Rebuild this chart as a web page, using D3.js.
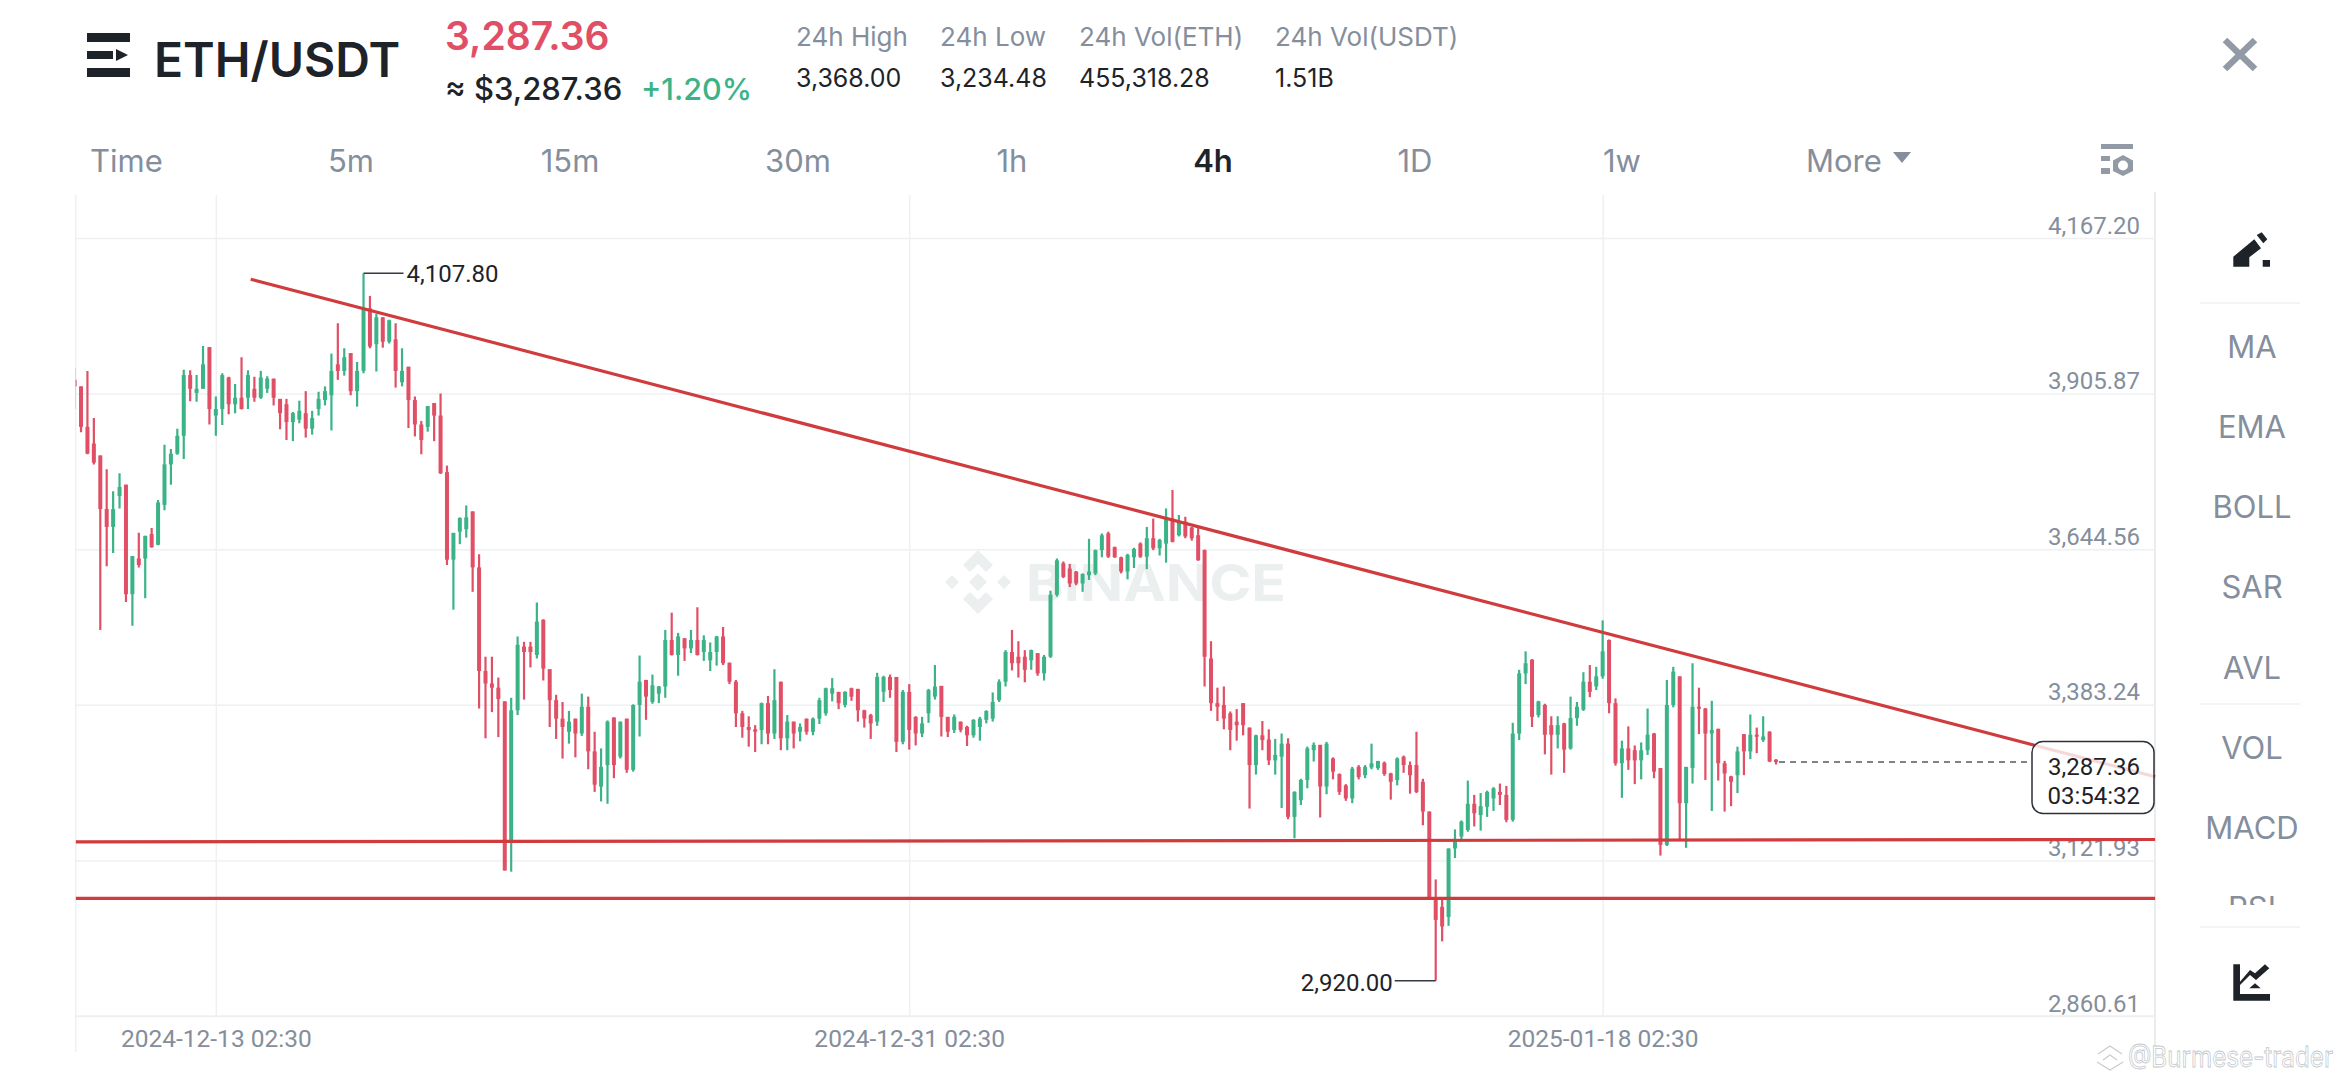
<!DOCTYPE html>
<html>
<head>
<meta charset="utf-8">
<title>ETH/USDT</title>
<script src="https://cdn.jsdelivr.net/npm/d3@7"></script>
<style>
body { margin: 0; background: #ffffff; overflow: hidden; }
text { font-family: Inter, "Noto Sans", sans-serif; }
</style>
</head>
<body>
<script>
// 4h candles (first one is cut by the left edge)
var opens = [3929,3918,3850,3822,3802,3712,3682,3734,3753,3569,
3629,3629,3670,3652,3719,3787,3805,3835,3937,3907,
3914,3984,3869,3880,3933,3888,3899,3899,3914,3899,
3914,3931,3897,3888,3858,3862,3873,3847,3880,3895,
3903,3955,3944,3974,3910,3944,4049,3989,4034,3993,
3997,3925,3951,3895,3854,3850,3890,3869,3774,3627,
3674,3678,3708,3614,3440,3419,3412,3389,3155,3374,
3481,3481,3467,3526,3443,3391,3360,3338,3360,3335,
3380,3305,3246,3282,3362,3296,3360,3274,3383,3425,
3388,3402,3414,3492,3467,3495,3478,3492,3472,3458,
3472,3498,3454,3422,3369,3346,3342,3341,3386,3335,
3422,3327,3355,3338,3360,3338,3360,3369,3402,3405,
3383,3411,3410,3374,3366,3355,3405,3430,3430,3321,
3405,3363,3335,3369,3397,3415,3363,3341,3355,3346,
3332,3346,3358,3360,3391,3422,3472,3464,3464,3458,
3470,3436,3464,3568,3621,3612,3607,3587,3601,3604,
3643,3671,3648,3631,3607,3631,3654,3632,3663,3646,
3654,3696,3668,3691,3681,3668,3643,3461,3386,3383,
3369,3355,3386,3345,3282,3332,3325,3290,3296,3318,
3195,3223,3257,3307,3316,3246,3293,3267,3248,3226,
3279,3265,3278,3277,3286,3268,3257,3296,3282,3282,
3254,3204,3058,3044,3027,3142,3162,3173,3217,3198,
3212,3226,3237,3232,3190,3335,3436,3459,3366,3383,
3349,3333,3352,3310,3361,3375,3422,3414,3431,3492,
3386,3285,3310,3307,3290,3307,3335,3277,3148,3383,
3431,3218,3277,3380,3377,3335,3343,3285,3263,3265,
3334,3305,3333,3324,3338,3291];

var highs = [3948,3918,3944,3865,3802,3779,3742,3772,3753,3633,
3672,3667,3680,3727,3820,3813,3847,3946,3945,3937,
3986,3984,3901,3940,3934,3922,3967,3945,3934,3944,
3935,3931,3897,3897,3875,3894,3910,3877,3909,3918,
3973,4024,3982,3974,3959,4107.8,4070,4040,4034,4030,
4024,3982,3951,3901,3860,3885,3890,3906,3785,3672,
3698,3718,3708,3636,3464,3464,3429,3389,3395,3498,
3489,3489,3555,3527,3443,3400,3388,3373,3360,3402,
3397,3338,3310,3357,3362,3355,3360,3384,3466,3425,
3434,3415,3509,3538,3504,3495,3509,3547,3500,3488,
3499,3514,3454,3425,3373,3364,3349,3387,3398,3443,
3422,3366,3355,3352,3360,3362,3395,3412,3428,3405,
3406,3412,3410,3375,3368,3437,3432,3434,3430,3408,
3418,3364,3363,3410,3450,3415,3363,3367,3355,3348,
3359,3363,3374,3404,3426,3475,3509,3490,3475,3476,
3470,3467,3575,3629,3624,3620,3608,3604,3662,3644,
3671,3674,3649,3632,3637,3647,3656,3682,3696,3662,
3713,3744,3702,3699,3682,3680,3644,3490,3412,3414,
3372,3376,3386,3345,3333,3356,3342,3326,3335,3327,
3238,3259,3313,3320,3316,3321,3295,3268,3250,3279,
3282,3282,3318,3289,3288,3269,3295,3298,3288,3338,
3259,3204,3090,3058,3142,3174,3189,3256,3232,3235,
3239,3245,3251,3247,3353,3442,3473,3460,3390,3385,
3364,3364,3353,3397,3388,3438,3450,3447,3525,3493,
3394,3323,3347,3315,3320,3377,3336,3277,3425,3447,
3431,3279,3453,3412,3378,3390,3343,3289,3264,3313,
3334,3367,3345,3364,3339,3292];

var lows = [3880,3841,3804,3787,3509,3616,3638,3713,3556,3516,
3614,3562,3647,3651,3710,3753,3803,3796,3893,3892,
3914,3854,3835,3853,3871,3873,3879,3880,3892,3897,
3907,3886,3846,3828,3826,3856,3832,3837,3869,3886,
3844,3929,3936,3903,3884,3940,3982,3943,3983,3990,
3916,3918,3848,3834,3804,3842,3826,3771,3618,3543,
3653,3664,3573,3377,3327,3371,3329,3105,3103,3366,
3392,3446,3461,3424,3346,3326,3293,3318,3295,3331,
3275,3237,3221,3217,3260,3293,3269,3271,3330,3358,
3385,3386,3395,3466,3432,3457,3470,3466,3457,3440,
3449,3450,3418,3346,3328,3313,3304,3317,3317,3326,
3307,3307,3310,3322,3333,3332,3351,3365,3389,3376,
3379,3390,3355,3345,3326,3348,3388,3395,3304,3317,
3308,3315,3329,3353,3392,3330,3329,3336,3337,3314,
3328,3323,3352,3355,3388,3414,3441,3429,3421,3442,
3432,3424,3462,3565,3596,3581,3584,3573,3593,3601,
3631,3630,3630,3604,3594,3613,3630,3611,3643,3634,
3622,3656,3666,3663,3659,3625,3414,3373,3356,3342,
3307,3323,3332,3209,3266,3307,3282,3266,3210,3191,
3159,3215,3243,3288,3194,3233,3258,3232,3222,3218,
3258,3260,3275,3274,3264,3224,3248,3269,3234,3235,
3181,3058,2920,2986,3012,3126,3157,3170,3179,3172,
3195,3205,3215,3186,3187,3324,3418,3346,3362,3300,
3266,3310,3269,3308,3348,3373,3396,3408,3427,3369,
3281,3227,3274,3250,3258,3299,3260,3130,3146,3379,
3157,3143,3251,3334,3257,3205,3256,3204,3213,3235,
3265,3292,3302,3321,3287,3283];

var closes = [3918,3850,3805,3790,3712,3682,3712,3749,3569,3633,
3618,3667,3648,3723,3787,3805,3835,3937,3914,3914,
3955,3880,3880,3937,3888,3899,3880,3937,3899,3933,
3931,3899,3873,3858,3873,3877,3847,3865,3897,3910,
3944,3944,3967,3910,3944,4049,3985,4034,3993,4029,
3944,3944,3895,3854,3828,3885,3869,3772,3627,3672,
3697,3698,3614,3440,3419,3412,3393,3105,3374,3484,
3472,3472,3523,3444,3391,3360,3346,3355,3335,3380,
3305,3249,3279,3355,3282,3355,3274,3383,3422,3397,
3416,3414,3492,3467,3498,3478,3492,3467,3492,3472,
3498,3453,3422,3369,3346,3341,3338,3386,3335,3391,
3327,3355,3335,3346,3338,3360,3391,3411,3411,3386,
3405,3397,3374,3360,3352,3430,3430,3408,3321,3405,
3341,3335,3352,3408,3414,3363,3338,3363,3341,3332,
3358,3360,3373,3388,3422,3472,3453,3453,3442,3475,
3436,3464,3568,3626,3598,3587,3587,3603,3607,3643,
3668,3632,3631,3607,3635,3645,3632,3663,3646,3660,
3696,3657,3691,3666,3663,3626,3464,3386,3380,3360,
3341,3349,3349,3282,3332,3324,3290,3299,3318,3195,
3237,3257,3310,3316,3246,3318,3271,3237,3226,3276,
3262,3279,3285,3289,3267,3254,3293,3282,3265,3237,
3204,3058,3022,3011,3142,3156,3187,3217,3201,3213,
3237,3243,3232,3190,3335,3436,3453,3363,3389,3333,
3333,3349,3308,3361,3380,3422,3405,3431,3473,3386,
3285,3310,3290,3290,3307,3333,3271,3148,3383,3439,
3218,3279,3380,3377,3335,3341,3285,3268,3254,3305,
3305,3333,3330,3330,3288,3287.36];

var yTicks = [4167.20, 3905.87, 3644.56, 3383.24, 3121.93, 2860.61];
var xTicks = [22, 130, 238];
var xLabels = ['2024-12-13 02:30', '2024-12-31 02:30', '2025-01-18 02:30'];

// hand drawn lines on the chart: [bar position, price]
var trendLine = [[27.43, 4098], [324.05, 3262.5]];
var supportHigh = [[0.2, 3153], [324.05, 3157]];
var supportLow = [[0.2, 3058], [324.05, 3058]];

var statNames = ['24h High', '24h Low', '24h Vol(ETH)', '24h Vol(USDT)'];
var statValues = ['3,368.00', '3,234.48', '455,318.28', '1.51B'];
var tabNames = ['5m', '15m', '30m', '1h', '4h', '1D', '1w'];
var sideNames = ['MA', 'EMA', 'BOLL', 'SAR', 'AVL', 'VOL', 'MACD', 'RSI'];

var red = '#e04f65';
var green = '#3bb387';
var grey = '#848e9c';
var dark = '#1e2329';
var lineRed = '#d03c3e';
var gridColor = '#eef0f2';
var numFont = 'Roboto';

var width = 2340;
var height = 1080;

var svg = d3.select('body').append('svg')
    .attr('width', width)
    .attr('height', height)
    .style('display', 'block');

var x = d3.scaleLinear().domain([0, 265]).range([74.6, 1776]);
var y = d3.scaleLinear().domain([2860.61, 4167.20]).range([1016, 238]);
var plotLeft = 75.7;
var plotRight = 2155;

svg.append('clipPath').attr('id', 'plot')
    .append('rect')
    .attr('x', plotLeft).attr('y', 190)
    .attr('width', plotRight - plotLeft).attr('height', 830);

// left / right borders of the plot
svg.append('line').attr('x1', plotLeft).attr('x2', plotLeft).attr('y1', 195).attr('y2', 1052)
    .attr('stroke', gridColor).attr('stroke-width', 1.5);
svg.append('line').attr('x1', plotRight).attr('x2', plotRight).attr('y1', 192).attr('y2', 1047)
    .attr('stroke', '#e4e6e9').attr('stroke-width', 1.5);

// axes, the tick lines double as grid
var yAxis = d3.axisLeft(y)
    .tickValues(yTicks)
    .tickFormat(d3.format(',.2f'))
    .tickSize(plotRight - plotLeft);
var yG = svg.append('g').attr('transform', 'translate(' + plotRight + ',0)').call(yAxis);
yG.select('.domain').remove();
yG.selectAll('line').attr('stroke', gridColor).attr('stroke-width', 1.5);
yG.selectAll('text')
    .attr('x', -15)
    .attr('dy', '-5px')
    .attr('fill', grey)
    .attr('font-size', 24)
    .attr('font-family', numFont)
    .style('font-family', numFont);

var xAxis = d3.axisBottom(x)
    .tickValues(xTicks)
    .tickFormat(function(d, i) { return xLabels[i]; })
    .tickSize(-821);
var xG = svg.append('g').attr('transform', 'translate(0,1016)').call(xAxis);
xG.select('.domain').attr('stroke', gridColor).attr('stroke-width', 1.5)
    .attr('d', 'M' + plotLeft + ',0H' + plotRight);
xG.selectAll('line').attr('stroke', gridColor).attr('stroke-width', 1.5);
xG.selectAll('text')
    .attr('y', 31)
    .attr('dy', 0)
    .attr('fill', grey)
    .attr('font-size', 24.5)
    .style('font-family', numFont);

// binance mark behind the candles
var wm = svg.append('g').attr('fill', '#ecefef');
var logoC = [978, 582];
wm.append('path')
    .attr('transform', 'translate(' + logoC[0] + ',' + logoC[1] + ')')
    .attr('d', 'M0,-32L15,-17L8,-10L0,-18L-8,-10L-15,-17Z' +
        'M0,32L15,17L8,10L0,18L-8,10L-15,17Z' +
        'M-33,0L-26,-7L-19,0L-26,7Z M33,0L26,-7L19,0L26,7Z M0,-9L9,0L0,9L-9,0Z');
wm.append('text')
    .attr('x', 1026).attr('y', 601)
    .attr('font-size', 51).attr('font-weight', 700)
    .attr('textLength', 260).attr('lengthAdjust', 'spacingAndGlyphs')
    .text('BINANCE');

// candles
var candles = svg.append('g').attr('clip-path', 'url(#plot)');
var idx = d3.range(opens.length);

candles.selectAll('line.wick').data(idx).enter().append('line')
    .attr('class', 'wick')
    .attr('x1', function(i) { return x(i); })
    .attr('x2', function(i) { return x(i); })
    .attr('y1', function(i) { return y(highs[i]); })
    .attr('y2', function(i) { return y(lows[i]); })
    .attr('stroke', function(i) { return closes[i] >= opens[i] ? green : red; })
    .attr('stroke-width', 2.2);

candles.selectAll('rect.body').data(idx).enter().append('rect')
    .attr('class', 'body')
    .attr('x', function(i) { return x(i) - 2; })
    .attr('width', 4)
    .attr('y', function(i) { return y(Math.max(opens[i], closes[i])); })
    .attr('height', function(i) { return Math.max(2, Math.abs(y(opens[i]) - y(closes[i]))); })
    .attr('fill', function(i) { return closes[i] >= opens[i] ? green : red; });

// drawn lines
var lineGen = d3.line().x(function(d) { return x(d[0]); }).y(function(d) { return y(d[1]); });
[trendLine, supportHigh, supportLow].forEach(function(pts) {
    svg.append('path')
        .attr('d', lineGen(pts))
        .attr('fill', 'none')
        .attr('stroke', lineRed)
        .attr('stroke-width', 3.2);
});

// max / min labels
var hiBar = highs.indexOf(d3.max(highs));
var loBar = lows.indexOf(d3.min(lows));
svg.append('line')
    .attr('x1', x(hiBar)).attr('x2', x(hiBar) + 40)
    .attr('y1', y(highs[hiBar])).attr('y2', y(highs[hiBar]))
    .attr('stroke', '#333a42').attr('stroke-width', 1.5);
svg.append('text')
    .attr('x', x(hiBar) + 43).attr('y', y(highs[hiBar]) + 9)
    .attr('font-size', 24).attr('fill', dark)
    .style('font-family', numFont)
    .text(d3.format(',.2f')(highs[hiBar]));
svg.append('line')
    .attr('x1', x(loBar) - 41).attr('x2', x(loBar))
    .attr('y1', y(lows[loBar])).attr('y2', y(lows[loBar]))
    .attr('stroke', '#333a42').attr('stroke-width', 1.5);
svg.append('text')
    .attr('x', x(loBar) - 43).attr('y', y(lows[loBar]) + 10)
    .attr('text-anchor', 'end')
    .attr('font-size', 24).attr('fill', dark)
    .style('font-family', numFont)
    .text(d3.format(',.2f')(lows[loBar]));

// last price
var lastClose = closes[closes.length - 1];
svg.append('line')
    .attr('x1', x(closes.length - 1) + 3).attr('x2', 2032)
    .attr('y1', y(lastClose)).attr('y2', y(lastClose))
    .attr('stroke', '#555b63').attr('stroke-width', 1.5)
    .attr('stroke-dasharray', '6,5');
svg.append('rect')
    .attr('x', 2032).attr('y', 741.5).attr('width', 122).attr('height', 72).attr('rx', 11)
    .attr('fill', '#ffffff').attr('fill-opacity', 0.8)
    .attr('stroke', '#2b3139').attr('stroke-width', 1.5);
svg.append('text').attr('x', 2140).attr('y', 775).attr('text-anchor', 'end')
    .attr('font-size', 24).attr('fill', dark).style('font-family', numFont)
    .text(d3.format(',.2f')(lastClose));
svg.append('text').attr('x', 2140).attr('y', 804).attr('text-anchor', 'end')
    .attr('font-size', 24).attr('fill', dark).style('font-family', numFont)
    .text('03:54:32');

// header
svg.append('path')
    .attr('fill', dark)
    .attr('d', 'M87,33H130V42H87Z M87,51H113V59H87Z M116,49L128,55L116,61Z M87,68H130V77H87Z');
svg.append('text').attr('x', 154).attr('y', 77)
    .attr('font-size', 48).attr('font-weight', 600).attr('fill', dark).text('ETH/USDT');
svg.append('text').attr('x', 445).attr('y', 50)
    .attr('font-size', 39).attr('font-weight', 600).attr('fill', red).text('3,287.36');
svg.append('text').attr('x', 445).attr('y', 100)
    .attr('font-size', 31).attr('font-weight', 500).attr('fill', dark).text('≈ $3,287.36');
svg.append('text').attr('x', 641).attr('y', 100)
    .attr('font-size', 30.5).attr('font-weight', 500).attr('fill', green).text('+1.20%');

var statX = d3.scaleOrdinal().domain(statNames).range([796, 940, 1079, 1275]);
svg.selectAll('text.statName').data(statNames).enter().append('text')
    .attr('class', 'statName')
    .attr('x', function(d) { return statX(d); }).attr('y', 46)
    .attr('font-size', 26).attr('fill', grey)
    .text(function(d) { return d; });
svg.selectAll('text.statValue').data(statValues).enter().append('text')
    .attr('class', 'statValue')
    .attr('x', function(d, i) { return statX(statNames[i]); }).attr('y', 87)
    .attr('font-size', 25).attr('fill', dark)
    .text(function(d) { return d; });

// tabs
var tabX = d3.scaleOrdinal().domain(tabNames).range([351, 570, 798, 1012, 1213, 1415, 1622]);
svg.append('text').attr('x', 90).attr('y', 172)
    .attr('font-size', 31).attr('fill', grey).text('Time');
svg.selectAll('text.tab').data(tabNames).enter().append('text')
    .attr('class', 'tab')
    .attr('x', function(d) { return tabX(d); }).attr('y', 172)
    .attr('text-anchor', 'middle')
    .attr('font-size', 31)
    .attr('font-weight', function(d) { return d == '4h' ? 600 : 400; })
    .attr('fill', function(d) { return d == '4h' ? dark : grey; })
    .text(function(d) { return d; });
svg.append('text').attr('x', 1806).attr('y', 172)
    .attr('font-size', 31).attr('fill', grey).text('More');
svg.append('path').attr('fill', grey).attr('d', 'M1893,152H1911L1902,163Z');

// settings icon
svg.append('path').attr('fill', '#929aa5').attr('fill-rule', 'evenodd')
    .attr('d', 'M2101,144H2133V149H2101Z M2101,156H2110V161H2101Z M2101,168H2110V174H2101Z ' +
        'M2123,155L2133,160.5V171L2123,176L2113,171V160.5Z M2123,160.5A5,5 0 1,0 2123,170.5A5,5 0 1,0 2123,160.5Z');

// close button
svg.append('path').attr('stroke', '#929aa5').attr('stroke-width', 6.5).attr('fill', 'none')
    .attr('d', 'M2225,40L2255,69M2255,40L2225,69');

// right panel
svg.append('g').selectAll('line').data([303, 704, 927]).enter().append('line')
    .attr('x1', 2200).attr('x2', 2300)
    .attr('y1', function(d) { return d; }).attr('y2', function(d) { return d; })
    .attr('stroke', gridColor).attr('stroke-width', 1.5);

svg.append('clipPath').attr('id', 'side')
    .append('rect').attr('x', 2160).attr('y', 300).attr('width', 180).attr('height', 605);
var sideY = d3.scalePoint().domain(sideNames).range([358, 919]);
svg.append('g').attr('clip-path', 'url(#side)')
    .selectAll('text').data(sideNames).enter().append('text')
    .attr('x', 2252)
    .attr('y', function(d) { return sideY(d); })
    .attr('text-anchor', 'middle')
    .attr('font-size', 31)
    .attr('fill', grey)
    .text(function(d) { return d; });

// pencil icon
svg.append('path').attr('fill', dark)
    .attr('d', 'M2233.3,266.7V256.7L2254.3,239.3L2261,248.3L2249.3,257.3V266.7Z ' +
        'M2256.7,235L2261.7,232.3L2267.3,239.3L2263.3,243.3Z M2262.7,260H2270V266.7H2262.7Z');
// chart type icon
svg.append('path').attr('fill', dark)
    .attr('d', 'M2233.3,964.3H2240V994H2270V1000.7H2233.3Z ' +
        'M2240,981.7L2250,970L2255,973.3L2265,964.3L2269.3,968.3L2256,980L2250,975L2240,985Z ' +
        'M2249.3,988.3L2255,983.3L2260.7,988.3Z');

// repost watermark, bottom right
svg.append('path').attr('fill', 'none').attr('stroke', '#c8cbd0').attr('stroke-width', 1.2)
    .attr('d', 'M2098,1054L2110,1046L2122,1054M2103,1060L2110,1055L2117,1060M2097,1062L2110,1070L2123,1062');
svg.append('text').attr('x', 2128).attr('y', 1067)
    .attr('font-size', 28).attr('fill', '#ffffff').attr('stroke', '#c4c8cc').attr('stroke-width', 0.8)
    .attr('textLength', 205).attr('lengthAdjust', 'spacingAndGlyphs')
    .text('@Burmese-trader');
</script>
</body>
</html>
